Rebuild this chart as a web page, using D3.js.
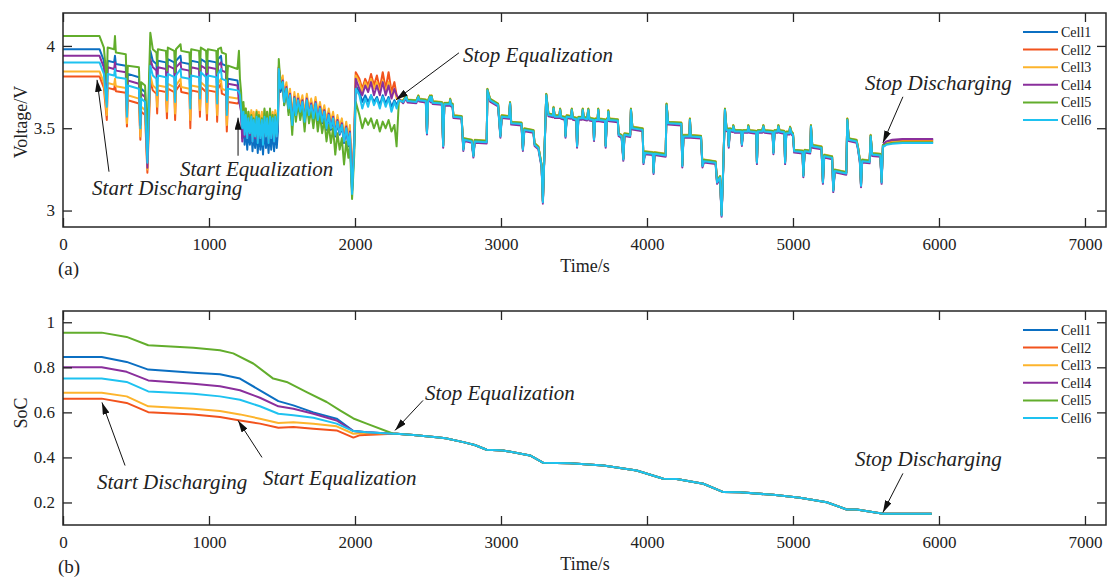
<!DOCTYPE html>
<html>
<head>
<meta charset="utf-8">
<script src="https://cdn.jsdelivr.net/npm/d3@7"></script>
<style>
  body { margin: 0; background: #fff; }
  svg { display: block; }
  text { font-family: "Liberation Serif", "DejaVu Serif", "Times New Roman", serif; fill: #222; }
</style>
</head>
<body>
<svg width="1107" height="577"></svg>
<script>
// ---- data ----
const cells = ["Cell1", "Cell2", "Cell3", "Cell4", "Cell5", "Cell6"];
const colors = ["#0b6fc2", "#f2531d", "#fdb42c", "#8a2f9c", "#62ad2c", "#1ec2f0"];

const timeTicks = [0, 1000, 2000, 3000, 4000, 5000, 6000, 7000];
const voltTicks = [3, 3.5, 4];
const socTicks = [0.2, 0.4, 0.6, 0.8, 1];

// voltage, before the cells converge (shared time base)
const vTime = [0, 250, 280, 300, 306, 350, 356, 362, 430, 438, 444, 520, 530, 536, 562, 578,
  598, 615, 640, 645, 650, 705, 712, 718, 762, 768, 774, 805, 810, 866, 872, 878, 932, 938, 944,
  980, 986, 992, 1050, 1056, 1062, 1082, 1088, 1116, 1122, 1130, 1195, 1205, 1212,
  1220, 1228, 1236, 1244, 1252, 1262, 1270, 1280, 1290, 1298, 1306, 1316, 1326, 1334, 1342,
  1352, 1362, 1370, 1380, 1390, 1398, 1408, 1418, 1426, 1436, 1446, 1454, 1464, 1472,
  1478, 1490, 1505, 1515, 1530, 1545, 1555, 1570, 1585, 1595, 1610, 1625, 1640, 1655, 1670,
  1685, 1700, 1715, 1730, 1745, 1760, 1775, 1790, 1805, 1820, 1835, 1850, 1865, 1880, 1895,
  1910, 1925, 1940, 1955, 1965, 1980, 1995,
  2005, 2030, 2050, 2070, 2090, 2110, 2130, 2150, 2170, 2190, 2210, 2230, 2250, 2270, 2285, 2300];

const vCell1 = [3.98, 3.98, 3.91, 3.70, 3.91, 3.90, 3.94, 3.89, 3.88, 3.63, 3.83, 3.81, 3.55, 3.74, 3.72, 3.34,
  3.97, 3.91, 3.89, 3.80, 3.91, 3.90, 3.78, 3.92, 3.90, 3.77, 3.91, 3.94, 3.90, 3.89, 3.74, 3.91, 3.90, 3.78, 3.92,
  3.90, 3.77, 3.91, 3.90, 3.76, 3.92, 3.94, 3.89, 3.88, 3.66, 3.80, 3.79, 3.72, 3.70,
  3.60, 3.44, 3.56, 3.40, 3.52, 3.37, 3.50, 3.40, 3.50, 3.36, 3.48, 3.38, 3.50, 3.35, 3.48,
  3.37, 3.48, 3.34, 3.50, 3.38, 3.48, 3.35, 3.50, 3.37, 3.49, 3.36, 3.50, 3.38, 3.48,
  3.84, 3.72, 3.76, 3.64, 3.73, 3.60, 3.69, 3.52, 3.67, 3.57, 3.66, 3.59, 3.65, 3.53, 3.66,
  3.57, 3.63, 3.55, 3.64, 3.54, 3.61, 3.53, 3.59, 3.49, 3.57, 3.49, 3.55, 3.45, 3.53, 3.46,
  3.51, 3.41, 3.49, 3.39, 3.46, 3.12, 3.40,
  3.76, 3.72, 3.66, 3.70, 3.66, 3.70, 3.66, 3.69, 3.64, 3.70, 3.65, 3.69, 3.63, 3.67, 3.64, 3.67];
const vCell2 = [3.815, 3.815, 3.745, 3.55, 3.745, 3.735, 3.77, 3.725, 3.715, 3.51, 3.67, 3.65, 3.43, 3.60, 3.58, 3.23,
  3.79, 3.73, 3.71, 3.59, 3.73, 3.72, 3.56, 3.74, 3.72, 3.55, 3.73, 3.77, 3.72, 3.71, 3.50, 3.73, 3.72, 3.57, 3.75,
  3.72, 3.55, 3.73, 3.72, 3.54, 3.74, 3.77, 3.71, 3.70, 3.48, 3.66, 3.65, 3.66, 3.65,
  3.64, 3.53, 3.62, 3.50, 3.60, 3.48, 3.58, 3.50, 3.59, 3.47, 3.58, 3.49, 3.59, 3.46, 3.58,
  3.49, 3.58, 3.46, 3.59, 3.50, 3.58, 3.47, 3.59, 3.49, 3.58, 3.47, 3.59, 3.50, 3.58,
  3.87, 3.77, 3.80, 3.68, 3.76, 3.64, 3.72, 3.55, 3.70, 3.60, 3.69, 3.62, 3.68, 3.56, 3.69,
  3.60, 3.66, 3.58, 3.67, 3.57, 3.64, 3.56, 3.62, 3.52, 3.60, 3.52, 3.58, 3.48, 3.56, 3.49,
  3.54, 3.44, 3.52, 3.42, 3.50, 3.15, 3.45,
  3.84, 3.80, 3.74, 3.80, 3.76, 3.83, 3.76, 3.82, 3.74, 3.84, 3.74, 3.84, 3.72, 3.78, 3.70, 3.675];
const vCell3 = [3.845, 3.845, 3.775, 3.58, 3.775, 3.765, 3.80, 3.755, 3.745, 3.53, 3.70, 3.68, 3.45, 3.63, 3.61, 3.25,
  3.82, 3.76, 3.74, 3.63, 3.76, 3.75, 3.60, 3.77, 3.75, 3.59, 3.76, 3.80, 3.75, 3.74, 3.55, 3.76, 3.75, 3.61, 3.78,
  3.75, 3.59, 3.76, 3.75, 3.58, 3.77, 3.80, 3.74, 3.73, 3.52, 3.69, 3.68, 3.69, 3.68,
  3.66, 3.55, 3.64, 3.52, 3.62, 3.50, 3.60, 3.52, 3.61, 3.50, 3.60, 3.51, 3.61, 3.49, 3.60,
  3.51, 3.60, 3.48, 3.61, 3.52, 3.60, 3.50, 3.61, 3.51, 3.60, 3.50, 3.61, 3.52, 3.60,
  3.88, 3.78, 3.82, 3.70, 3.78, 3.66, 3.74, 3.57, 3.72, 3.62, 3.71, 3.64, 3.70, 3.58, 3.71,
  3.62, 3.68, 3.60, 3.69, 3.59, 3.66, 3.58, 3.64, 3.54, 3.62, 3.54, 3.60, 3.50, 3.58, 3.51,
  3.56, 3.46, 3.54, 3.44, 3.52, 3.15, 3.45,
  3.82, 3.78, 3.72, 3.78, 3.74, 3.80, 3.74, 3.78, 3.72, 3.79, 3.72, 3.78, 3.70, 3.74, 3.68, 3.675];
const vCell4 = [3.94, 3.94, 3.87, 3.66, 3.87, 3.86, 3.90, 3.85, 3.84, 3.60, 3.79, 3.77, 3.52, 3.71, 3.69, 3.26,
  3.92, 3.87, 3.85, 3.75, 3.87, 3.86, 3.72, 3.88, 3.86, 3.71, 3.87, 3.90, 3.86, 3.85, 3.68, 3.87, 3.86, 3.73, 3.88,
  3.86, 3.71, 3.87, 3.86, 3.70, 3.88, 3.90, 3.85, 3.84, 3.61, 3.77, 3.76, 3.66, 3.64,
  3.60, 3.42, 3.58, 3.45, 3.56, 3.44, 3.54, 3.46, 3.56, 3.42, 3.54, 3.44, 3.56, 3.42, 3.55,
  3.44, 3.54, 3.41, 3.56, 3.45, 3.55, 3.42, 3.56, 3.44, 3.55, 3.42, 3.56, 3.45, 3.55,
  3.87, 3.75, 3.79, 3.67, 3.75, 3.62, 3.71, 3.53, 3.69, 3.58, 3.68, 3.60, 3.67, 3.54, 3.68,
  3.58, 3.65, 3.56, 3.66, 3.55, 3.63, 3.54, 3.61, 3.50, 3.59, 3.50, 3.57, 3.46, 3.55, 3.47,
  3.53, 3.42, 3.51, 3.40, 3.48, 3.12, 3.42,
  3.80, 3.74, 3.70, 3.76, 3.72, 3.78, 3.70, 3.76, 3.70, 3.78, 3.70, 3.76, 3.68, 3.74, 3.70, 3.68];
const vCell5 = [4.06, 4.06, 3.99, 3.78, 3.99, 3.98, 4.06, 3.96, 3.95, 3.72, 3.88, 3.87, 3.62, 3.78, 3.76, 3.45,
  4.08, 3.98, 3.96, 3.88, 3.98, 3.97, 3.85, 3.99, 3.97, 3.84, 3.98, 4.01, 3.97, 3.96, 3.82, 3.98, 3.97, 3.85, 3.99,
  3.97, 3.84, 3.98, 3.97, 3.83, 3.98, 3.99, 3.96, 3.95, 3.76, 3.88, 3.86, 3.97, 3.80,
  3.72, 3.52, 3.66, 3.50, 3.62, 3.47, 3.60, 3.48, 3.58, 3.45, 3.56, 3.48, 3.60, 3.44, 3.58,
  3.46, 3.56, 3.43, 3.62, 3.48, 3.60, 3.44, 3.62, 3.46, 3.58, 3.44, 3.58, 3.47, 3.58,
  3.92, 3.76, 3.78, 3.64, 3.74, 3.58, 3.68, 3.46, 3.68, 3.54, 3.65, 3.55, 3.63, 3.48, 3.65,
  3.53, 3.61, 3.50, 3.62, 3.48, 3.58, 3.47, 3.55, 3.42, 3.52, 3.41, 3.50, 3.34, 3.47, 3.37,
  3.44, 3.28, 3.42, 3.32, 3.40, 3.07, 3.34,
  3.66, 3.58, 3.50, 3.56, 3.52, 3.56, 3.50, 3.55, 3.48, 3.54, 3.50, 3.55, 3.48, 3.52, 3.39, 3.66];
const vCell6 = [3.90, 3.90, 3.83, 3.63, 3.83, 3.82, 3.86, 3.81, 3.80, 3.57, 3.76, 3.74, 3.50, 3.68, 3.66, 3.29,
  3.88, 3.82, 3.80, 3.70, 3.82, 3.81, 3.67, 3.83, 3.81, 3.66, 3.82, 3.86, 3.81, 3.80, 3.62, 3.82, 3.81, 3.68, 3.84,
  3.81, 3.66, 3.82, 3.81, 3.65, 3.83, 3.86, 3.80, 3.79, 3.58, 3.74, 3.73, 3.72, 3.70,
  3.62, 3.50, 3.60, 3.46, 3.58, 3.44, 3.56, 3.47, 3.57, 3.42, 3.55, 3.45, 3.57, 3.41, 3.56,
  3.44, 3.55, 3.40, 3.57, 3.45, 3.56, 3.41, 3.57, 3.44, 3.56, 3.42, 3.57, 3.45, 3.56,
  3.86, 3.74, 3.78, 3.66, 3.74, 3.62, 3.70, 3.52, 3.68, 3.58, 3.67, 3.60, 3.66, 3.54, 3.67,
  3.58, 3.64, 3.56, 3.65, 3.55, 3.62, 3.54, 3.60, 3.50, 3.58, 3.50, 3.56, 3.46, 3.54, 3.47,
  3.52, 3.42, 3.50, 3.40, 3.47, 3.10, 3.40,
  3.74, 3.70, 3.62, 3.68, 3.63, 3.70, 3.64, 3.68, 3.62, 3.69, 3.63, 3.68, 3.60, 3.66, 3.62, 3.67];

// voltage after equalization stops: one common trace, each cell sits a hair above/below it
const vTail = [[2330, 3.66], [2350, 3.69], [2360, 3.665], [2420, 3.66], [2434, 3.69], [2440, 3.67],
  [2485, 3.665], [2493, 3.47], [2500, 3.66], [2514, 3.69], [2520, 3.665], [2525, 3.69], [2532, 3.655],
  [2595, 3.65], [2604, 3.39], [2612, 3.645], [2648, 3.645], [2652, 3.67], [2658, 3.64], [2668, 3.64],
  [2674, 3.57], [2730, 3.565], [2742, 3.37], [2750, 3.43], [2800, 3.42], [2811, 3.33], [2820, 3.42],
  [2902, 3.415], [2907, 3.73], [2925, 3.67], [2980, 3.64], [2996, 3.45], [3005, 3.57], [3055, 3.565],
  [3062, 3.65], [3070, 3.53], [3140, 3.525], [3150, 3.37], [3160, 3.49], [3222, 3.48], [3230, 3.40],
  [3256, 3.38], [3278, 3.27], [3287, 3.05], [3296, 3.30], [3310, 3.70], [3325, 3.58], [3355, 3.575],
  [3360, 3.62], [3368, 3.57], [3400, 3.57], [3405, 3.61], [3412, 3.565], [3437, 3.56], [3442, 3.45],
  [3450, 3.57], [3480, 3.565], [3485, 3.61], [3492, 3.56], [3515, 3.555], [3521, 3.39], [3530, 3.56],
  [3555, 3.56], [3560, 3.61], [3567, 3.56], [3590, 3.555], [3598, 3.61], [3605, 3.555], [3632, 3.55],
  [3637, 3.43], [3645, 3.55], [3662, 3.55], [3666, 3.61], [3672, 3.55], [3712, 3.545], [3717, 3.39],
  [3725, 3.55], [3732, 3.55], [3735, 3.60], [3742, 3.55], [3800, 3.545], [3806, 3.46], [3826, 3.45],
  [3838, 3.31], [3846, 3.46], [3885, 3.455], [3890, 3.61], [3900, 3.50], [3970, 3.49], [3976, 3.29],
  [3986, 3.35], [4040, 3.345], [4045, 3.23], [4052, 3.345], [4128, 3.335], [4134, 3.64], [4145, 3.53],
  [4235, 3.525], [4242, 3.27], [4250, 3.45], [4290, 3.45], [4294, 3.55], [4300, 3.45], [4370, 3.445],
  [4380, 3.27], [4390, 3.30], [4470, 3.29], [4480, 3.17], [4500, 3.20], [4511, 2.97], [4522, 3.25],
  [4534, 3.61], [4545, 3.49], [4555, 3.49], [4560, 3.39], [4568, 3.49], [4588, 3.485], [4591, 3.51],
  [4600, 3.48], [4645, 3.48], [4650, 3.40], [4658, 3.48], [4690, 3.48], [4694, 3.51], [4702, 3.48],
  [4748, 3.475], [4753, 3.29], [4760, 3.48], [4790, 3.48], [4797, 3.51], [4805, 3.48], [4860, 3.475],
  [4866, 3.35], [4874, 3.48], [4895, 3.48], [4900, 3.51], [4908, 3.48], [4940, 3.475], [4946, 3.29],
  [4954, 3.47], [4975, 3.47], [4980, 3.50], [4990, 3.47], [5000, 3.46], [5008, 3.36], [5065, 3.355],
  [5071, 3.21], [5080, 3.36], [5118, 3.355], [5123, 3.51], [5132, 3.39], [5195, 3.38], [5205, 3.17],
  [5214, 3.33], [5268, 3.32], [5276, 3.12], [5286, 3.24], [5365, 3.225], [5372, 3.55], [5382, 3.43],
  [5435, 3.42], [5445, 3.38], [5458, 3.30], [5466, 3.15], [5474, 3.30], [5525, 3.295], [5532, 3.45],
  [5542, 3.34], [5598, 3.335], [5607, 3.17], [5616, 3.39]];
const vTailShift = [0.004, 0.005, 0.01, -0.008, 0.008, 0];

// relaxation after discharging stops
const vEndTime = [5625, 5640, 5680, 5750, 5850, 5960];
const vEnd1 = [3.405, 3.415, 3.425, 3.43, 3.43, 3.43];
const vEnd2 = [3.40, 3.41, 3.418, 3.423, 3.425, 3.425];
const vEnd3 = [3.40, 3.41, 3.415, 3.42, 3.42, 3.42];
const vEnd4 = [3.41, 3.42, 3.43, 3.435, 3.435, 3.435];
const vEnd5 = [3.395, 3.405, 3.41, 3.415, 3.415, 3.415];
const vEnd6 = [3.39, 3.40, 3.405, 3.41, 3.41, 3.41];

// state of charge
const socCell1 = [[0, 0.846], [265, 0.846], [436, 0.824], [584, 0.79], [893, 0.776], [1075, 0.769], [1212, 0.75],
  [1349, 0.698], [1475, 0.65], [1578, 0.631], [1715, 0.60], [1874, 0.572], [1989, 0.517], [2080, 0.512], [2263, 0.505]];
const socCell2 = [[0, 0.661], [265, 0.661], [436, 0.642], [584, 0.601], [893, 0.591], [1075, 0.579], [1212, 0.564],
  [1349, 0.55], [1475, 0.532], [1578, 0.535], [1715, 0.527], [1874, 0.52], [1989, 0.488], [2030, 0.498], [2263, 0.505]];
const socCell3 = [[0, 0.687], [265, 0.687], [436, 0.671], [584, 0.627], [893, 0.616], [1075, 0.606], [1212, 0.591],
  [1349, 0.572], [1475, 0.553], [1578, 0.556], [1715, 0.55], [1874, 0.538], [1989, 0.505], [2080, 0.508], [2263, 0.505]];
const socCell4 = [[0, 0.80], [265, 0.80], [436, 0.78], [584, 0.742], [893, 0.727], [1075, 0.716], [1212, 0.698],
  [1349, 0.665], [1475, 0.627], [1578, 0.616], [1715, 0.594], [1874, 0.564], [1989, 0.517], [2080, 0.512], [2263, 0.505]];
const socCell5 = [[0, 0.954], [265, 0.954], [436, 0.935], [584, 0.898], [893, 0.887], [1075, 0.876], [1166, 0.862],
  [1303, 0.817], [1440, 0.75], [1532, 0.735], [1669, 0.69], [1806, 0.646], [1897, 0.609], [1989, 0.573], [2080, 0.55], [2263, 0.505]];
const socCell6 = [[0, 0.75], [265, 0.75], [436, 0.735], [584, 0.693], [893, 0.683], [1075, 0.671], [1212, 0.656],
  [1349, 0.627], [1475, 0.594], [1578, 0.587], [1715, 0.576], [1874, 0.55], [1989, 0.517], [2080, 0.512], [2263, 0.505]];
const socTail = [[2285, 0.505], [2400, 0.50], [2559, 0.49], [2620, 0.485], [2742, 0.468], [2820, 0.455],
  [2902, 0.434], [3014, 0.431], [3199, 0.409], [3290, 0.376], [3473, 0.374], [3701, 0.364], [3929, 0.342],
  [4112, 0.305], [4203, 0.304], [4386, 0.283], [4523, 0.246], [4637, 0.245], [4865, 0.234], [5048, 0.221],
  [5231, 0.201], [5368, 0.169], [5436, 0.169], [5618, 0.15], [5950, 0.15]];

const vEarly = [vCell1, vCell2, vCell3, vCell4, vCell5, vCell6];
const vEnd = [vEnd1, vEnd2, vEnd3, vEnd4, vEnd5, vEnd6];
const socEarly = [socCell1, socCell2, socCell3, socCell4, socCell5, socCell6];

// annotations in data units: text anchor (tx, ty), arrow tail (x1, y1) -> head (x2, y2)
const voltNotes = [
  { text: "Start Discharging", tx: 199, ty: 3.094, x1: 315, y1: 3.236, x2: 233, y2: 3.794 },
  { text: "Start Equalization", tx: 801, ty: 3.212, x1: 1199, y1: 3.333, x2: 1199, y2: 3.564 },
  { text: "Stop Equalization", tx: 2740, ty: 3.903, x1: 2712, y1: 3.958, x2: 2281, y2: 3.673 },
  { text: "Stop Discharging", tx: 5493, ty: 3.733, x1: 5753, y1: 3.691, x2: 5616, y2: 3.412 }
];
const socNotes = [
  { text: "Start Discharging", tx: 233, ty: 0.258, x1: 425, y1: 0.364, x2: 267, y2: 0.644 },
  { text: "Start Equalization", tx: 1370, ty: 0.276, x1: 1363, y1: 0.40, x2: 1199, y2: 0.564 },
  { text: "Stop Equalization", tx: 2479, ty: 0.653, x1: 2466, y1: 0.653, x2: 2274, y2: 0.52 },
  { text: "Stop Discharging", tx: 5425, ty: 0.364, x1: 5753, y1: 0.329, x2: 5616, y2: 0.156 }
];

// ---- build series ----
const voltSeries = cells.map((c, i) => {
  const pts = vTime.map((t, k) => [t, vEarly[i][k]]);
  vTail.forEach(d => pts.push([d[0], d[1] + vTailShift[i]]));
  vEndTime.forEach((t, k) => pts.push([t, vEnd[i][k]]));
  return pts;
});
const socSeries = cells.map((c, i) => socEarly[i].concat(socTail));

// ---- layout ----
const svg = d3.select("svg");
const left = 63, right = 1106, tick = 9;
const ink = "#262626";

const x = d3.scaleLinear().domain([0, 7144]).range([left, right]);

const defs = svg.append("defs");
defs.append("marker")
  .attr("id", "head")
  .attr("viewBox", "0 0 12 7")
  .attr("refX", 12).attr("refY", 3.5)
  .attr("markerWidth", 12).attr("markerHeight", 7)
  .attr("markerUnits", "userSpaceOnUse")
  .attr("orient", "auto")
  .append("path").attr("d", "M0,0L12,3.5L0,7z").attr("fill", "#111");

function drawPanel(opt) {
  const g = svg.append("g");
  const y = d3.scaleLinear().domain(opt.domain).range([opt.bottom, opt.top]);

  defs.append("clipPath").attr("id", opt.id)
    .append("rect").attr("x", left).attr("y", opt.top)
    .attr("width", right - left).attr("height", opt.bottom - opt.top);

  const line = d3.line().x(d => x(d[0])).y(d => y(d[1]));
  g.append("g").attr("clip-path", `url(#${opt.id})`)
    .selectAll("path").data(opt.series).enter().append("path")
    .attr("d", line)
    .attr("fill", "none")
    .attr("stroke", (d, i) => colors[i])
    .attr("stroke-width", 2)
    .attr("stroke-linejoin", "round");

  // axes with inward ticks on all four sides
  const axes = [
    g.append("g").attr("transform", `translate(0,${opt.bottom})`)
      .call(d3.axisBottom(x).tickValues(timeTicks).tickSize(-tick).tickPadding(11).tickFormat(d3.format("d"))),
    g.append("g").attr("transform", `translate(0,${opt.top})`)
      .call(d3.axisTop(x).tickValues(timeTicks).tickSize(-tick).tickFormat("")),
    g.append("g").attr("transform", `translate(${left},0)`)
      .call(d3.axisLeft(y).tickValues(opt.ticks).tickSize(-tick).tickPadding(8).tickFormat(d3.format("~g"))),
    g.append("g").attr("transform", `translate(${right},0)`)
      .call(d3.axisRight(y).tickValues(opt.ticks).tickSize(-tick).tickFormat(""))
  ];
  axes.forEach(a => {
    a.select(".domain").remove();
    a.selectAll("line").attr("stroke", ink).attr("stroke-width", 1.3);
    a.selectAll("text").attr("font-size", 17).attr("font-family", null).attr("fill", "#222");
  });

  g.append("rect")
    .attr("x", left).attr("y", opt.top)
    .attr("width", right - left).attr("height", opt.bottom - opt.top)
    .attr("fill", "none").attr("stroke", ink).attr("stroke-width", 1.5);

  // labels
  g.append("text")
    .attr("x", 585).attr("y", opt.bottom + 45)
    .attr("text-anchor", "middle").attr("font-size", 18)
    .text("Time/s");
  g.append("text")
    .attr("transform", `translate(27,${(opt.top + opt.bottom) / 2 + opt.ylabelShift}) rotate(-90)`)
    .attr("text-anchor", "middle").attr("font-size", 18)
    .text(opt.ylabel);
  g.append("text")
    .attr("x", 58).attr("y", opt.bottom + 48)
    .attr("font-size", 19)
    .text(opt.tag);

  // annotations
  opt.notes.forEach(n => {
    g.append("line")
      .attr("x1", x(n.x1)).attr("y1", y(n.y1))
      .attr("x2", x(n.x2)).attr("y2", y(n.y2))
      .attr("stroke", "#111").attr("stroke-width", 1)
      .attr("marker-end", "url(#head)");
    g.append("text")
      .attr("x", x(n.tx)).attr("y", y(n.ty))
      .attr("font-size", 21).attr("font-style", "italic")
      .attr("fill", "#111")
      .text(n.text);
  });

  // legend (no box)
  const lg = g.append("g").attr("transform", `translate(1023,${opt.top + 19})`);
  cells.forEach((c, i) => {
    const row = lg.append("g").attr("transform", `translate(0,${i * 17.6})`);
    row.append("line").attr("x1", 0).attr("x2", 35)
      .attr("stroke", colors[i]).attr("stroke-width", 2);
    row.append("text").attr("x", 38).attr("dy", "0.35em")
      .attr("font-size", 14).text(c);
  });
}

drawPanel({
  id: "clipV", top: 13, bottom: 227, domain: [2.9, 4.2], ticks: voltTicks,
  series: voltSeries, ylabel: "Voltage/V", ylabelShift: 2, tag: "(a)", notes: voltNotes
});
drawPanel({
  id: "clipS", top: 311, bottom: 525, domain: [0.1, 1.05], ticks: socTicks,
  series: socSeries, ylabel: "SoC", ylabelShift: -5, tag: "(b)", notes: socNotes
});
</script>
</body>
</html>
